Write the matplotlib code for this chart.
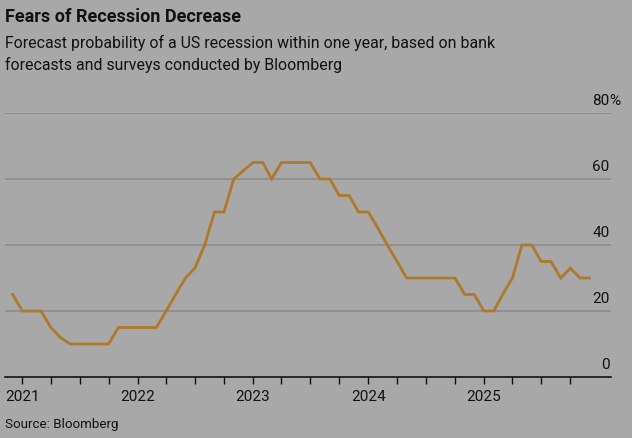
import datetime as dt
import matplotlib
matplotlib.use("Agg")
import matplotlib.pyplot as plt
import matplotlib.dates as mdates

plt.rcParams['font.family'] = ['Roboto', 'DejaVu Sans']

# monthly observations, Dec 2020 .. Dec 2025
months = [dt.date(2020 + (11 + i) // 12, (11 + i) % 12 + 1, 1) for i in range(61)]
probability = [25,
               20, 20, 20, 15, 12, 10, 10, 10, 10, 10, 15, 15,
               15, 15, 15, 20, 25, 30, 33, 40, 50, 50, 60, 62.5,
               65, 65, 60, 65, 65, 65, 65, 60, 60, 55, 55, 50,
               50, 45, 40, 35, 30, 30, 30, 30, 30, 30, 25, 25,
               20, 20, 25, 30, 40, 40, 35, 35, 30, 33, 30, 30]
y_ticks = [0, 20, 40, 60, 80]
y_labels = ["0", "20", "40", "60", "80"]
years = [2021, 2022, 2023, 2024, 2025]

bg = "#a8a8a8"
fig = plt.figure(figsize=(6.32, 4.39), dpi=100, facecolor=bg)
ax = fig.add_axes([5 / 632, 61 / 439, 606 / 632, 264 / 439], facecolor=bg)

for v in y_ticks[1:]:
    ax.axhline(v, color="#8e8e8e", lw=1.3, zorder=1)
ax.plot(months, probability, color="#b0782b", lw=2.0, zorder=3, solid_joinstyle="miter")

ax.set_ylim(0, 80)
ax.set_xlim(dt.date(2020, 11, 7), dt.date(2026, 2, 7))

for v, lab in zip(y_ticks, y_labels):
    ax.annotate(lab, xy=(1, v), xycoords=("axes fraction", "data"),
                xytext=(-1, 4), textcoords="offset points",
                ha="right", va="bottom", fontsize=11, color="#111111")
# percent sign hangs past the right end of the gridlines
ax.annotate("%", xy=(1, y_ticks[-1]), xycoords=("axes fraction", "data"),
            xytext=(-1, 4), textcoords="offset points",
            ha="left", va="bottom", fontsize=11, color="#111111")
ax.set_yticks([])

for s in ["top", "right", "left"]:
    ax.spines[s].set_visible(False)
ax.spines["bottom"].set_color("#111111")
ax.spines["bottom"].set_linewidth(1.2)

ax.set_xticks([dt.date(y, 1, 1) for y in years])
ax.set_xticklabels([str(y) for y in years], fontsize=11, color="#111111")
ax.xaxis.set_minor_locator(mdates.MonthLocator(bymonth=[4, 7, 10]))
ax.tick_params(axis="x", which="both", direction="out", length=5, width=1,
               color="#111111", pad=4)

fig.text(5 / 632, 1 - 17 / 439, "Fears of Recession Decrease", fontsize=13,
         fontweight="bold", va="center", ha="left", color="#111111")
fig.text(5 / 632, 1 - 43 / 439, "Forecast probability of a US recession within one year, based on bank",
         fontsize=11.4, va="center", ha="left", color="#111111")
fig.text(5 / 632, 1 - 65 / 439, "forecasts and surveys conducted by Bloomberg",
         fontsize=11.4, va="center", ha="left", color="#111111")
fig.text(5 / 632, 1 - 425 / 439, "Source: Bloomberg", fontsize=9.6,
         va="center", ha="left", color="#111111")

fig.savefig("out.png", dpi=100, facecolor=bg)
